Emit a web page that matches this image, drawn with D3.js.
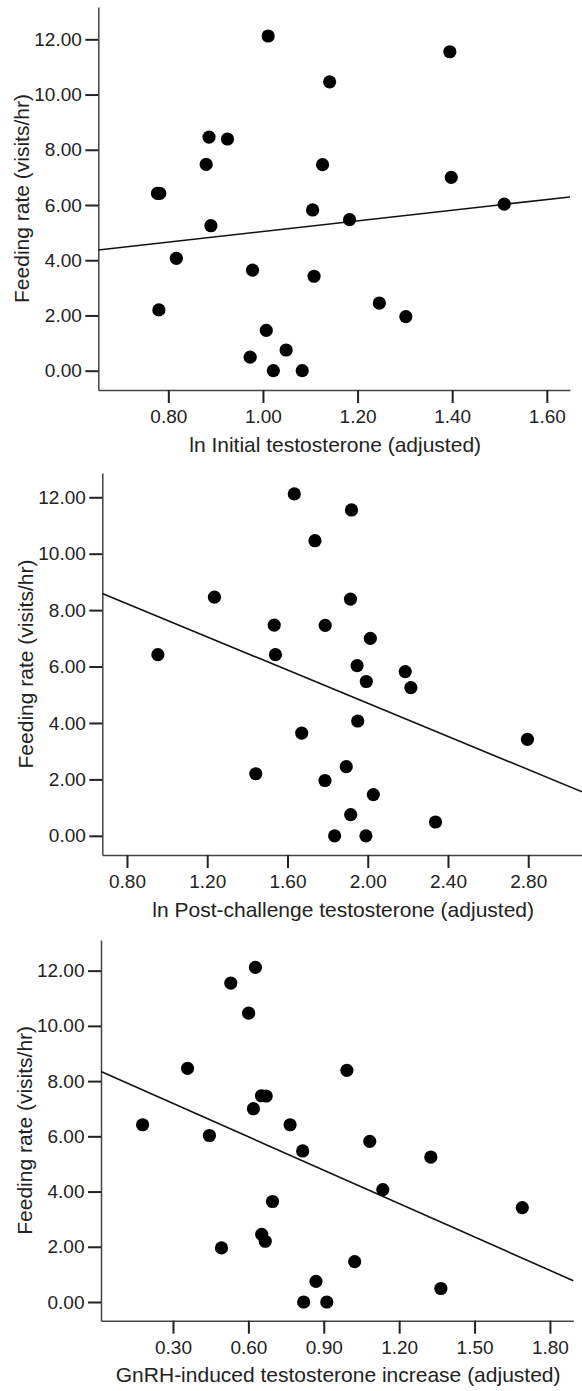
<!DOCTYPE html>
<html>
<head>
<meta charset="utf-8">
<script src="https://cdn.jsdelivr.net/npm/d3@7"></script>
<style>
  body { margin: 0; background: #fff; }
  svg { display: block; }
  .tick text { font-family: "Liberation Sans", Arial, sans-serif; font-size: 19px; fill: #222; }
  .tick line { stroke: #222; stroke-width: 2; }
  .domain { stroke: #444; stroke-width: 1.5; }
  .axis-title { font-family: "Liberation Sans", Arial, sans-serif; font-size: 21px; fill: #222; }
</style>
</head>
<body>
<div id="chart"></div>
<script>
const width = 582;
const height = 1391;

// feeding rate, same order of birds in every panel
const feedingRate = [12.12, 11.55, 10.46, 8.46, 8.39, 7.47, 7.46, 7.00, 6.42, 6.42, 6.03, 5.82, 5.47,
  5.25, 4.07, 3.64, 3.42, 2.45, 2.20, 1.96, 1.46, 0.75, 0.49, 0.00, 0.00];

const initialT = [1.011, 1.395, 1.141, 0.886, 0.925, 0.880, 1.126, 1.398, 0.777, 0.782, 1.510, 1.105, 1.183,
  0.890, 0.817, 0.978, 1.108, 1.246, 0.780, 1.302, 1.007, 1.049, 0.973, 1.022, 1.083];

const postChallengeT = [1.634, 1.919, 1.737, 1.236, 1.914, 1.534, 1.788, 2.013, 0.954, 1.540, 1.947, 2.187, 1.993,
  2.215, 1.950, 1.671, 2.796, 1.893, 1.442, 1.787, 2.028, 1.915, 2.338, 1.835, 1.991];

const gnrhIncrease = [0.628, 0.530, 0.601, 0.358, 0.992, 0.652, 0.671, 0.620, 0.179, 0.766, 0.445, 1.083, 0.816,
  1.326, 1.135, 0.696, 1.690, 0.653, 0.667, 0.493, 1.023, 0.869, 1.366, 0.820, 0.912];

// fitted regression lines (intercept, slope) as drawn in the figure
const fitIntercepts = [3.11, 10.58, 8.40];
const fitSlopes = [1.93, -2.94, -4.03];

const yTicks = [0, 2, 4, 6, 8, 10, 12];
const xTicks = [
  [0.8, 1.0, 1.2, 1.4, 1.6],
  [0.8, 1.2, 1.6, 2.0, 2.4, 2.8],
  [0.3, 0.6, 0.9, 1.2, 1.5, 1.8]
];
const xTitles = [
  "ln Initial testosterone (adjusted)",
  "ln Post-challenge testosterone (adjusted)",
  "GnRH-induced testosterone increase (adjusted)"
];
const yTitle = "Feeding rate (visits/hr)";
const xSeries = [initialT, postChallengeT, gnrhIncrease];

// panel frames in pixels and the value range they show
const panels = [
  {left: 98.3, right: 570, top: 7, bottom: 390, xDomain: [0.652, 1.649], yDomain: [-0.699, 13.17]},
  {left: 102.3, right: 582, top: 473, bottom: 855, xDomain: [0.677, 3.068], yDomain: [-0.68, 12.86]},
  {left: 101, right: 573.3, top: 940, bottom: 1320.7, xDomain: [0.0135, 1.893], yDomain: [-0.677, 13.11]}
];

const fmt = d3.format(".2f");

const svg = d3.select("#chart")
  .append("svg")
  .attr("width", width)
  .attr("height", height)
  .attr("viewBox", [0, 0, width, height]);

panels.forEach((p, i) => {
  const x = d3.scaleLinear().domain(p.xDomain).range([p.left, p.right]);
  const y = d3.scaleLinear().domain(p.yDomain).range([p.bottom, p.top]);
  const g = svg.append("g");

  g.append("g")
    .attr("transform", `translate(0,${p.bottom})`)
    .call(d3.axisBottom(x).tickValues(xTicks[i]).tickFormat(fmt).tickSize(13).tickSizeOuter(0).tickPadding(6.5));

  g.append("g")
    .attr("transform", `translate(${p.left},0)`)
    .call(d3.axisLeft(y).tickValues(yTicks).tickFormat(fmt).tickSize(13).tickSizeOuter(0).tickPadding(3.5));

  g.append("text")
    .attr("class", "axis-title")
    .attr("x", (p.left + p.right) / 2 + 1)
    .attr("y", p.bottom + 61.5)
    .attr("text-anchor", "middle")
    .text(xTitles[i]);

  g.append("text")
    .attr("class", "axis-title")
    .attr("transform", `translate(${p.left - 69},${(p.top + p.bottom) / 2}) rotate(-90)`)
    .attr("text-anchor", "middle")
    .text(yTitle);

  const fit = v => fitIntercepts[i] + fitSlopes[i] * v;
  g.append("path")
    .datum(p.xDomain)
    .attr("fill", "none")
    .attr("stroke", "#111")
    .attr("stroke-width", 1.6)
    .attr("d", d3.line().x(d => x(d)).y(d => y(fit(d))));

  g.append("g")
    .selectAll("circle")
    .data(xSeries[i].map((v, k) => ({x: v, y: feedingRate[k]})))
    .join("circle")
    .attr("cx", d => x(d.x))
    .attr("cy", d => y(d.y))
    .attr("r", 6.6)
    .attr("fill", "#000");
});
</script>
</body>
</html>
